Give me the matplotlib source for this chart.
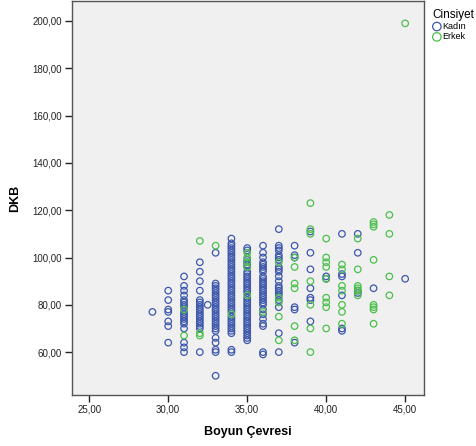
import matplotlib
matplotlib.use("Agg")
import matplotlib.pyplot as plt
from matplotlib.ticker import FuncFormatter

# Boyun cevresi values (x) and the DKB values found at each of them
kadin_x = [29, 30, 31, 32, 32.5, 33, 34, 35, 36, 37, 38, 39, 40, 41, 42, 43, 45]
kadin_y = [
    [77],
    [86, 82, 78, 77, 73, 71, 64],
    [92, 88, 86, 84, 82, 81, 80, 79, 77, 76, 75, 74, 73, 72, 70, 64, 62, 60],
    [98, 94, 90, 86, 82, 81, 80, 79, 78, 77, 76, 75, 74, 73, 72, 71, 70, 60],
    [80],
    [102, 89, 88, 87, 86, 85, 84, 83, 82, 81, 80, 79, 78, 77, 76, 75, 74, 73,
     72, 71, 70, 69, 66, 64, 61, 60, 50],
    [108, 106, 105, 104, 103, 102, 101, 100, 99, 98, 97, 96, 95, 94, 93, 92,
     91, 90, 89, 88, 87, 86, 85, 84, 83, 82, 81, 80, 79, 78, 77, 75, 74, 73,
     72, 71, 70, 69, 68, 61, 60],
    [104, 103, 99, 98, 97, 96, 94, 93, 92, 91, 90, 89, 88, 87, 86, 85, 83, 82,
     81, 80, 79, 78, 77, 76, 75, 74, 73, 72, 71, 70, 69, 68, 67, 66, 65],
    [105, 102, 100, 98, 97, 96, 95, 94, 92, 91, 90, 89, 88, 87, 86, 85, 84, 83,
     82, 81, 80, 78, 76, 74, 72, 71, 60, 59],
    [112, 105, 104, 103, 101, 100, 99, 96, 95, 94, 92, 90, 88, 87, 86, 85, 84,
     82, 79, 68, 60],
    [105, 101, 100, 79, 78, 64],
    [111, 102, 95, 87, 83, 82, 73],
    [92, 91],
    [110, 93, 92, 84, 70, 69],
    [110, 102, 86, 85],
    [87],
    [91],
]

erkek_x = [31, 32, 33, 34, 35, 36, 37, 38, 39, 40, 41, 42, 43, 44, 45]
erkek_y = [
    [78, 67],
    [107, 68, 67],
    [105],
    [76],
    [102, 100, 98, 96, 84],
    [77],
    [98, 83, 81, 75, 65],
    [100, 96, 89, 87, 71, 65],
    [123, 112, 110, 90, 80, 70, 60],
    [108, 100, 98, 96, 91, 83, 81, 79, 70],
    [97, 95, 88, 86, 80, 77, 72],
    [108, 95, 88, 87, 86, 84],
    [115, 114, 113, 99, 80, 79, 78, 72],
    [118, 110, 92, 84],
    [199],
]

x_ticks = [25, 30, 35, 40, 45]
y_ticks = [60, 80, 100, 120, 140, 160, 180, 200]

blue = "#3E58AC"
green = "#4CBF4C"

plt.rcParams["font.family"] = ["Liberation Sans", "DejaVu Sans"]

fig = plt.figure(figsize=(4.76, 4.46), dpi=100)
ax = fig.add_axes([0.151, 0.114, 0.740, 0.884])
ax.set_facecolor("#F0F0F0")


def flatten(xs, ys):
    px, py = [], []
    for x, col in zip(xs, ys):
        for y in col:
            px.append(x)
            py.append(y)
    return px, py


kx, ky = flatten(kadin_x, kadin_y)
ex, ey = flatten(erkek_x, erkek_y)

ax.scatter(kx, ky, s=22, facecolors="none", edgecolors=blue, linewidths=0.9, label="Kadın")
ax.scatter(ex, ey, s=22, facecolors="none", edgecolors=green, linewidths=0.9, label="Erkek")

ax.set_xlim(23.9, 46.2)
ax.set_ylim(41.8, 208.5)
ax.set_xticks(x_ticks)
ax.set_yticks(y_ticks)

fmt = FuncFormatter(lambda v, p: f"{v:.2f}".replace(".", ","))
ax.xaxis.set_major_formatter(fmt)
ax.yaxis.set_major_formatter(fmt)
ax.tick_params(axis="both", direction="out", length=5, width=1, labelsize=7,
               colors="#222222", pad=2)

for sp in ax.spines.values():
    sp.set_color("#555555")
    sp.set_linewidth(1)

ax.set_xlabel("Boyun Çevresi", fontsize=9, fontweight="bold", labelpad=8)
ax.set_ylabel("DKB", fontsize=9, fontweight="bold", labelpad=8)

leg = fig.legend(loc="upper left", bbox_to_anchor=(0.895, 0.995), frameon=False,
                 title="Cinsiyet", fontsize=6.5, title_fontsize=8.5,
                 handletextpad=0.1, handlelength=1.0, borderpad=0.2,
                 labelspacing=0.15, markerscale=1.3)
leg._legend_box.align = "left"

fig.savefig("out.png", dpi=100)
